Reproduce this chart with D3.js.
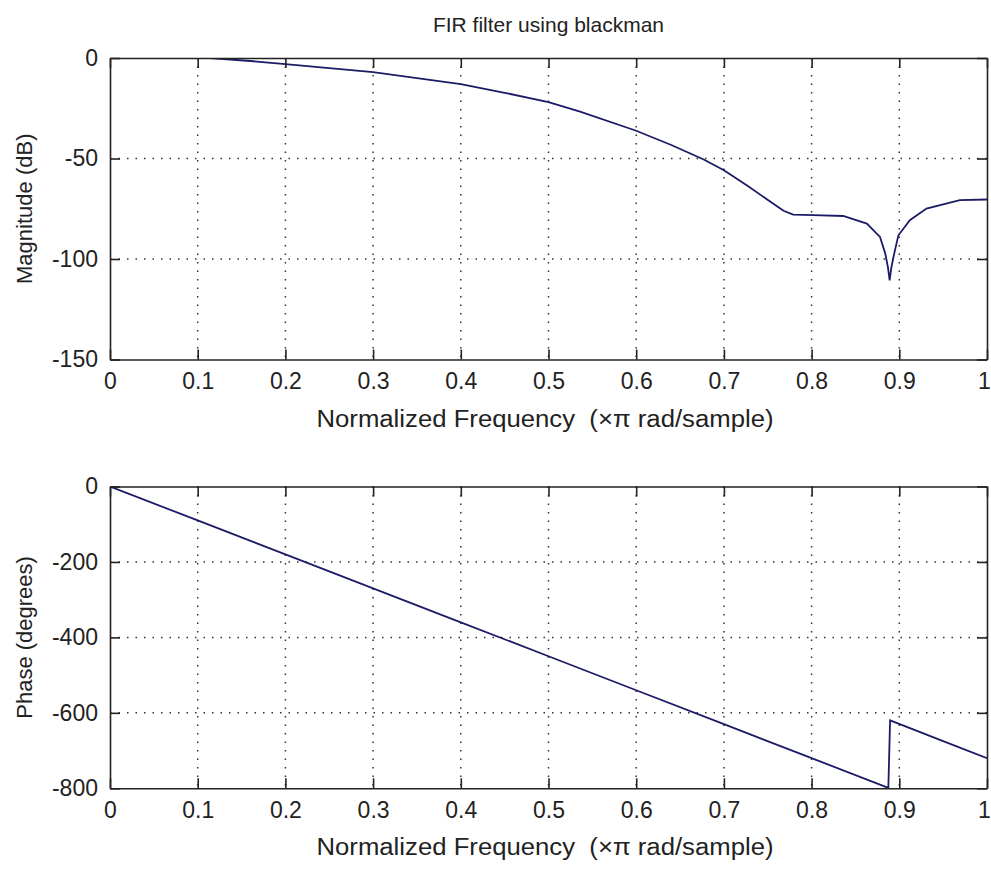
<!DOCTYPE html>
<html>
<head>
<meta charset="utf-8">
<script src="https://cdn.jsdelivr.net/npm/d3@7"></script>
<style>
  body { margin: 0; background: #fff; }
  text { font-family: "Liberation Sans", Arial, sans-serif; fill: #222; }
</style>
</head>
<body>
<svg id="chart" width="991" height="869"></svg>
<script>
// values
const xTicks = [0, 0.1, 0.2, 0.3, 0.4, 0.5, 0.6, 0.7, 0.8, 0.9, 1];
const xTickLabels = ["0", "0.1", "0.2", "0.3", "0.4", "0.5", "0.6", "0.7", "0.8", "0.9", "1"];

const magTicks = [0, -50, -100, -150];
const phaseTicks = [0, -200, -400, -600, -800];

const magFreq = [0.114, 0.16, 0.2, 0.25, 0.3, 0.35, 0.4, 0.45, 0.5, 0.536, 0.6, 0.64, 0.677, 0.7,
  0.726, 0.756, 0.768, 0.779, 0.802, 0.836, 0.863, 0.878, 0.884, 0.887, 0.889, 0.891, 0.895, 0.899,
  0.912, 0.931, 0.969, 1.0];
const magDb = [0, -1.5, -3, -5, -7, -10, -13, -17.3, -22, -26.7, -36.2, -43.3, -50.5, -55.8,
  -63.3, -72.4, -76, -77.9, -78.2, -78.6, -82.4, -89, -97.3, -104, -110.6, -104, -95.7, -88.2,
  -80.7, -74.9, -70.7, -70.4];

const phaseFreq = [0, 0.1, 0.2, 0.3, 0.4, 0.5, 0.6, 0.7, 0.8, 0.8875, 0.8885, 0.8895, 0.95, 1.0];
const phaseDeg = [0, -90, -180, -270, -360, -450, -540, -630, -720, -799, -710, -620, -675, -720];

const svg = d3.select("#chart");
const left = 110, right = 987;
const lineColor = "#1c1c66";
const axisColor = "#222";

svg.append("text")
  .attr("x", (left + right) / 2)
  .attr("y", 24)
  .attr("text-anchor", "middle")
  .attr("dominant-baseline", "central")
  .style("font-size", "21px")
  .text("FIR filter using blackman");

function drawPanel(opts) {
  const x = d3.scaleLinear().domain([0, 1]).range([left, right]);
  const y = d3.scaleLinear().domain(opts.yDomain).range([opts.bottom, opts.top]);
  const g = svg.append("g");
  const id = "clip" + opts.name;

  svg.append("clipPath").attr("id", id)
    .append("rect")
    .attr("x", left).attr("y", opts.top)
    .attr("width", right - left).attr("height", opts.bottom - opts.top);

  // dotted grid
  g.selectAll(".vgrid")
    .data(xTicks.slice(1, -1))
    .enter()
    .append("line")
    .attr("x1", d => x(d)).attr("x2", d => x(d))
    .attr("y1", opts.top).attr("y2", opts.bottom)
    .attr("stroke", "#333")
    .attr("stroke-width", 1.5)
    .attr("stroke-dasharray", "1.5,7");
  g.selectAll(".hgrid")
    .data(opts.yTicks.slice(1, -1))
    .enter()
    .append("line")
    .attr("y1", d => y(d)).attr("y2", d => y(d))
    .attr("x1", left).attr("x2", right)
    .attr("stroke", "#333")
    .attr("stroke-width", 1.5)
    .attr("stroke-dasharray", "1.5,7");

  // curve
  const line = d3.line().x((d, i) => x(opts.xs[i])).y(d => y(d));
  g.append("path")
    .datum(opts.ys)
    .attr("d", line)
    .attr("clip-path", "url(#" + id + ")")
    .attr("fill", "none")
    .attr("stroke", lineColor)
    .attr("stroke-width", 1.8);

  // box with inward ticks on all sides
  const tickLen = 10;
  const bottomAxis = d3.axisBottom(x).tickValues(xTicks).tickSizeInner(-tickLen).tickSizeOuter(0)
    .tickPadding(13).tickFormat((d, i) => xTickLabels[i]);
  const topAxis = d3.axisTop(x).tickValues(xTicks).tickSizeInner(-tickLen).tickSizeOuter(0)
    .tickFormat("");
  const leftAxis = d3.axisLeft(y).tickValues(opts.yTicks).tickSizeInner(-tickLen).tickSizeOuter(0)
    .tickPadding(12).tickFormat(d3.format("d"));
  const rightAxis = d3.axisRight(y).tickValues(opts.yTicks).tickSizeInner(-tickLen).tickSizeOuter(0)
    .tickFormat("");

  const axes = [
    g.append("g").attr("transform", `translate(0,${opts.bottom})`).call(bottomAxis),
    g.append("g").attr("transform", `translate(0,${opts.top})`).call(topAxis),
    g.append("g").attr("transform", `translate(${left},0)`).call(leftAxis),
    g.append("g").attr("transform", `translate(${right},0)`).call(rightAxis)
  ];
  axes.forEach(a => {
    a.select(".domain").attr("stroke", axisColor).attr("stroke-width", 1.6);
    a.selectAll(".tick line").attr("stroke", axisColor).attr("stroke-width", 1.6);
    a.selectAll(".tick text")
      .style("font-size", "23px")
      .style("font-family", "'Liberation Sans', Arial, sans-serif")
      .attr("fill", "#222");
  });
  axes[0].selectAll(".tick text").attr("dy", "0.71em");
  // last label sits on the window edge; nudge it in so it stays whole
  axes[0].selectAll(".tick text").filter(d => d === 1).attr("x", -3);
  axes[2].selectAll(".tick text").text(d => d === 0 ? "0" : "-" + Math.abs(d));

  // axis labels
  g.append("text")
    .attr("x", 545)
    .attr("y", opts.bottom + 59)
    .attr("text-anchor", "middle")
    .attr("dominant-baseline", "central")
    .attr("textLength", 457)
    .attr("lengthAdjust", "spacingAndGlyphs")
    .style("font-size", "23px")
    .style("white-space", "pre")
    .text("Normalized Frequency  (\u00d7\u03c0 rad/sample)");

  g.append("text")
    .attr("transform", `translate(24,${(opts.top + opts.bottom) / 2}) rotate(-90)`)
    .attr("text-anchor", "middle")
    .attr("dominant-baseline", "central")
    .style("font-size", "22px")
    .text(opts.ylabel);
}

drawPanel({
  name: "mag", top: 58, bottom: 359.5, yDomain: [-150, 0], yTicks: magTicks,
  xs: magFreq, ys: magDb, ylabel: "Magnitude (dB)"
});
drawPanel({
  name: "phase", top: 486.5, bottom: 788.3, yDomain: [-800, 0], yTicks: phaseTicks,
  xs: phaseFreq, ys: phaseDeg, ylabel: "Phase (degrees)"
});
</script>
</body>
</html>
